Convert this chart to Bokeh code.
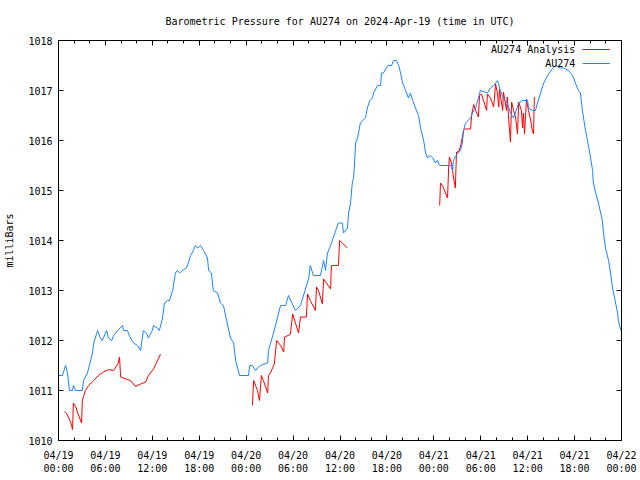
from bokeh.plotting import figure
from bokeh.models import FixedTicker, LinearAxis, Label
from bokeh.embed import file_html
from bokeh.resources import INLINE

TITLE = "Barometric Pressure for AU274 on 2024-Apr-19 (time in UTC)"
Y_LABEL = "milliBars"
SERIES_NAMES = ["AU274 Analysis", "AU274"]

# hours since 2024-04-19 00:00 UTC
tick_hours = [0, 6, 12, 18, 24, 30, 36, 42, 48, 54, 60, 66, 72]
tick_labels = ["04/19\n00:00", "04/19\n06:00", "04/19\n12:00", "04/19\n18:00",
               "04/20\n00:00", "04/20\n06:00", "04/20\n12:00", "04/20\n18:00",
               "04/21\n00:00", "04/21\n06:00", "04/21\n12:00", "04/21\n18:00",
               "04/22\n00:00"]
y_ticks = [1010, 1011, 1012, 1013, 1014, 1015, 1016, 1017, 1018]

obs_hours = [0.0, 0.5, 0.9, 1.15, 1.4, 1.8, 1.9, 2.2, 3.05, 3.2, 3.7, 3.95, 4.35, 4.5, 5.0,
             5.35, 5.6, 6.15, 6.4, 6.8, 7.05, 7.55, 8.2, 8.3, 8.8, 9.2, 9.6, 10.1, 10.5,
             10.85, 11.25, 11.5, 12.0, 12.15, 12.65, 12.9, 13.3, 13.55, 13.95, 14.2, 14.6,
             14.95, 15.2, 15.5, 15.85, 16.35, 16.6, 16.9, 17.25, 17.5, 17.8, 18.15, 18.55,
             19.05, 19.2, 19.55, 19.8, 20.35, 20.7, 21.1, 21.5, 22.0, 22.4, 22.65, 22.9,
             23.15, 24.3, 24.45, 24.8, 25.2, 25.45, 25.85, 26.75, 26.85, 27.5, 28.4, 29.05,
             29.4, 30.3, 30.95, 32.0, 32.2, 32.6, 33.5, 33.9, 34.15, 34.4, 34.8, 35.45,
             35.8, 36.3, 36.45, 36.95, 37.1, 37.35, 37.6, 37.75, 38.0, 38.25, 38.6, 38.9,
             39.25, 39.5, 39.8, 40.15, 40.3, 40.8, 41.2, 41.3, 41.55, 42.1, 42.6, 42.85,
             43.2, 43.5, 43.75, 44.0, 44.4, 44.75, 45.0, 45.3, 45.65, 46.05, 46.3, 46.7,
             46.95, 47.2, 47.55, 47.85, 48.2, 48.45, 48.75, 50.15, 50.4, 50.5, 51.05, 51.4,
             51.65, 51.8, 52.05, 52.7, 52.95, 53.35, 53.7, 53.95, 54.85, 55.25, 55.65,
             56.15, 56.5, 56.9, 57.4, 57.8, 58.2, 58.85, 59.35, 60.0, 60.1, 60.6, 61.0,
             61.25, 61.65, 62.05, 62.55, 63.2, 63.55, 64.2, 64.6, 65.2, 65.75, 66.1, 66.5,
             66.75, 67.0, 67.4, 67.65, 68.05, 68.3, 68.4, 68.7, 69.05, 69.55, 69.7, 69.95,
             70.35, 70.6, 70.85, 71.25, 71.5, 71.6, 71.9]
obs_mb = [1011.3, 1011.3, 1011.5, 1011.35, 1011.0, 1011.0, 1011.1, 1011.0, 1011.0, 1011.2,
          1011.35, 1011.5, 1011.75, 1011.95, 1012.2, 1012.05, 1012.0, 1012.2, 1012.05,
          1012.0, 1012.1, 1012.2, 1012.3, 1012.2, 1012.2, 1012.05, 1011.95, 1011.9, 1011.8,
          1012.2, 1012.15, 1012.05, 1012.2, 1012.3, 1012.25, 1012.2, 1012.45, 1012.75,
          1012.8, 1012.8, 1013.0, 1013.35, 1013.4, 1013.35, 1013.4, 1013.45, 1013.55,
          1013.7, 1013.8, 1013.9, 1013.85, 1013.9, 1013.8, 1013.65, 1013.4, 1013.35,
          1013.0, 1012.95, 1012.75, 1012.7, 1012.4, 1012.05, 1011.95, 1011.6, 1011.45,
          1011.3, 1011.3, 1011.5, 1011.5, 1011.4, 1011.45, 1011.5, 1011.55, 1011.8,
          1012.15, 1012.7, 1012.7, 1012.9, 1012.6, 1012.7, 1013.25, 1013.5, 1013.3,
          1013.3, 1013.6, 1013.4, 1013.75, 1013.9, 1014.2, 1014.35, 1014.35, 1014.15,
          1014.25, 1014.55, 1014.75, 1015.2, 1015.25, 1015.95, 1016.05, 1016.35, 1016.4,
          1016.45, 1016.65, 1016.8, 1016.85, 1016.95, 1017.1, 1017.1, 1017.35, 1017.35,
          1017.5, 1017.5, 1017.6, 1017.6, 1017.5, 1017.35, 1017.15, 1017.0, 1016.85,
          1016.95, 1016.8, 1016.65, 1016.5, 1016.25, 1016.0, 1015.75, 1015.65, 1015.7,
          1015.65, 1015.55, 1015.6, 1015.5, 1015.5, 1015.4, 1015.6, 1015.75, 1015.8,
          1015.95, 1016.2, 1016.35, 1016.45, 1016.55, 1016.65, 1016.85, 1017.0, 1016.95,
          1017.05, 1017.1, 1017.2, 1017.0, 1016.85, 1016.75, 1016.55, 1016.45, 1016.75,
          1016.8, 1016.8, 1016.65, 1016.6, 1016.6, 1016.75, 1016.95, 1017.15, 1017.3,
          1017.45, 1017.5, 1017.45, 1017.45, 1017.4, 1017.3, 1017.15, 1017.0, 1016.95,
          1016.6, 1016.2, 1016.0, 1015.65, 1015.4, 1015.15, 1014.95, 1014.75, 1014.4,
          1014.15, 1013.85, 1013.6, 1013.35, 1013.05, 1012.75, 1012.55, 1012.4, 1012.2]

# analysis runs (NaN separates the three runs)
ana_hours = [0.75, 1.0, 1.55, 1.8, 1.9, 2.2, 2.45, 2.7, 2.95, 3.05, 3.2, 3.45, 3.85, 4.5,
             5.1, 5.75, 6.4, 7.05, 7.65, 7.8, 7.95, 8.8, 9.2, 9.85, 10.5, 11.15, 11.5,
             12.15, 13.05,
             float("nan"),
             24.8, 24.95, 25.45, 25.7, 25.95, 26.2, 26.75, 26.85, 27.1, 27.6, 27.9, 28.4,
             28.8, 28.9, 29.65, 29.95, 30.3, 30.7, 30.95, 31.7, 31.85, 32.2, 32.85, 33.0,
             33.25, 33.75, 33.9, 34.8, 34.9, 35.8, 35.95, 36.95,
             float("nan"),
             48.75, 48.85, 49.1, 49.75, 49.9, 50.0, 50.25, 50.5, 50.75, 50.9, 51.15, 51.4,
             51.8, 51.95, 52.7, 52.85, 53.1, 53.35, 53.7, 53.85, 54.1, 54.75, 54.85, 55.25,
             55.65, 55.9, 56.15, 56.3, 56.4, 56.8, 56.9, 57.3, 57.4, 57.55, 57.8, 57.95,
             58.2, 58.45, 58.7, 58.85, 59.2, 59.35, 59.45, 59.6, 59.85, 60.1, 60.35, 60.6,
             60.75, 60.85]
ana_mb = [1010.58, 1010.55, 1010.37, 1010.22, 1010.75, 1010.68, 1010.55, 1010.45, 1010.35,
          1010.8, 1010.88, 1011.0, 1011.1, 1011.2, 1011.3, 1011.37, 1011.42, 1011.4,
          1011.55, 1011.67, 1011.27, 1011.22, 1011.2, 1011.08, 1011.13, 1011.17, 1011.3,
          1011.43, 1011.73,
          float("nan"),
          1010.7, 1011.2, 1011.0, 1010.8, 1011.3, 1011.2, 1010.95, 1011.3, 1011.35,
          1011.53, 1012.0, 1011.9, 1011.77, 1012.07, 1012.12, 1012.53, 1012.35, 1012.15,
          1012.47, 1012.47, 1012.93, 1012.8, 1012.6, 1013.07, 1013.0, 1012.73, 1013.23,
          1013.03, 1013.5, 1013.5, 1014.0, 1013.85,
          float("nan"),
          1014.7, 1015.15, 1015.1, 1014.85, 1015.47, 1015.67, 1015.55, 1015.27, 1015.05,
          1015.77, 1015.77, 1015.87, 1016.2, 1016.23, 1016.23, 1016.53, 1016.72, 1016.6,
          1016.47, 1016.9, 1016.93, 1016.6, 1016.93, 1016.85, 1016.67, 1017.13, 1016.93,
          1016.67, 1017.03, 1016.6, 1016.97, 1016.6, 1016.87, 1016.47, 1015.97, 1016.77,
          1016.6, 1016.47, 1016.13, 1016.77, 1016.6, 1016.25, 1016.55, 1016.13, 1016.83,
          1016.6, 1016.43, 1016.2, 1016.13, 1016.87]

RED = "#ff0000"
BLUE = "#1a84ff"
FONT = "DejaVu Sans Mono"
FS = "10px"

X0, X1 = tick_hours[0], tick_hours[-1]
Y0, Y1 = y_ticks[0], y_ticks[-1]

p = figure(width=640, height=480, x_range=(X0, X1), y_range=(Y0, Y1),
           output_backend="svg", toolbar_location=None, title=TITLE,
           min_border_left=58, min_border_right=19, min_border_top=40, min_border_bottom=40)
p.title.align = "center"
p.title.text_font = FONT
p.title.text_font_size = FS
p.title.text_font_style = "normal"
p.title.text_color = "black"
p.title.standoff = 27
p.xgrid.visible = False
p.ygrid.visible = False
p.outline_line_color = "black"
p.outline_line_width = 1
p.background_fill_color = "white"
p.border_fill_color = "white"

xt = FixedTicker(ticks=tick_hours, minor_ticks=list(range(X0, X1 + 1, 2)))
yt = FixedTicker(ticks=y_ticks, minor_ticks=[])

def style_axis(ax):
    ax.axis_line_color = "black"
    ax.major_tick_in = 5
    ax.major_tick_out = 0
    ax.minor_tick_in = 3
    ax.minor_tick_out = 0
    ax.major_tick_line_color = "black"
    ax.minor_tick_line_color = "black"
    ax.major_label_text_font = FONT
    ax.major_label_text_font_size = FS
    ax.major_label_text_color = "black"

xa = p.xaxis[0]
xa.ticker = xt
xa.major_label_overrides = {h: l for h, l in zip(tick_hours, tick_labels)}
xa.major_label_standoff = 9
style_axis(xa)

ya = p.yaxis[0]
ya.ticker = yt
ya.major_label_overrides = {v: str(v) for v in y_ticks}
ya.major_label_standoff = 6
ya.axis_label = Y_LABEL
ya.axis_label_text_font = FONT
ya.axis_label_text_font_size = FS
ya.axis_label_text_font_style = "normal"
ya.axis_label_text_color = "black"
ya.axis_label_standoff = 10
style_axis(ya)

# mirrored tick marks on the top and right edges, without labels
top = LinearAxis(ticker=xt, major_label_overrides={h: "" for h in tick_hours})
style_axis(top)
top.major_label_standoff = 0
p.add_layout(top, "above")
right = LinearAxis(ticker=yt, major_label_overrides={v: "" for v in y_ticks})
style_axis(right)
right.major_label_standoff = 0
p.add_layout(right, "right")

p.line(ana_hours, ana_mb, line_color=RED, line_width=1)
p.line(obs_hours, obs_mb, line_color=BLUE, line_width=1)

# gnuplot-style key: text right-aligned, sample line to its right
key_text_x = X0 + 0.918 * (X1 - X0)
key_line_x0 = X0 + 0.931 * (X1 - X0)
key_line_x1 = X0 + 0.979 * (X1 - X0)
key_rows = [Y1 - 0.0225 * (Y1 - Y0), Y1 - 0.0575 * (Y1 - Y0)]
for name, color, ky in zip(SERIES_NAMES, [RED, BLUE], key_rows):
    p.add_layout(Label(x=key_text_x, y=ky, text=name, text_align="right",
                       text_baseline="middle", text_font=FONT, text_font_size=FS,
                       text_color="black"))
    p.segment(x0=[key_line_x0], y0=[ky], x1=[key_line_x1], y1=[ky],
              line_color=color, line_width=1)

open("out.html", "w").write(file_html(p, INLINE))
